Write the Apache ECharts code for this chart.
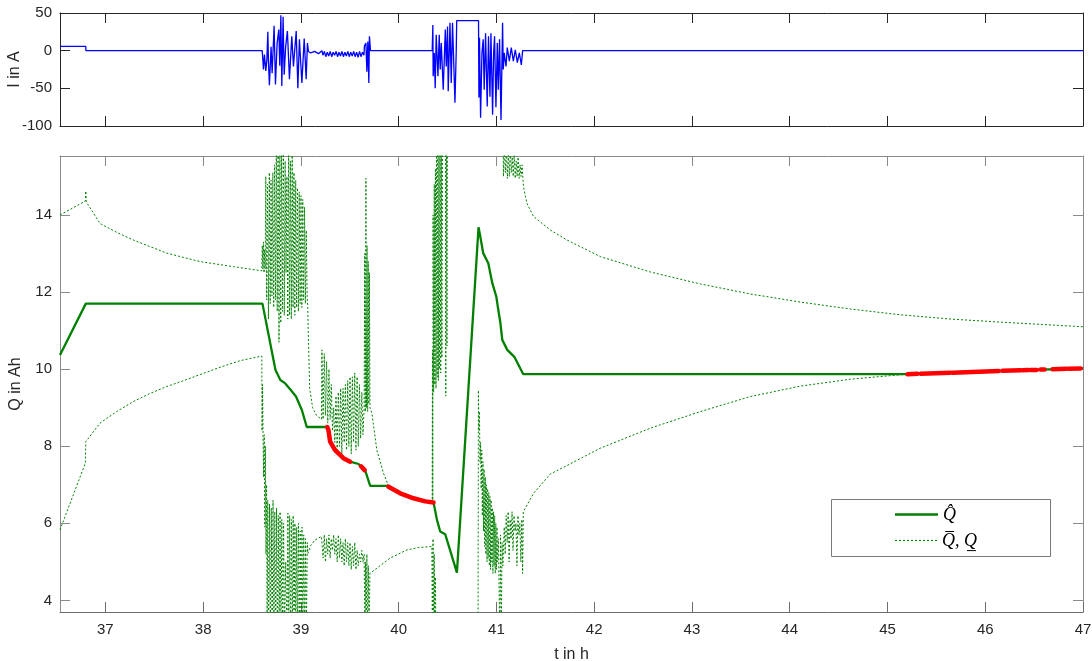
<!DOCTYPE html>
<html>
<head>
<meta charset="utf-8">
<title>I und Q</title>
<script src="https://cdn.jsdelivr.net/npm/echarts@6.0.0/dist/echarts.min.js"></script>
<style>
  html, body { margin: 0; padding: 0; background: #fff; }
  #chart { width: 1092px; height: 661px; }
</style>
</head>
<body>
<div id="chart"></div>
<script>
  // Achsen
  var tMin = 36.536, tMax = 47
  var tTicks = [37, 38, 39, 40, 41, 42, 43, 44, 45, 46, 47]
  var iTicks = [-100, -50, 0, 50]
  var qTicks = [4, 6, 8, 10, 12, 14]

  // Strom I in A, [t, I]
  var currentPts = [
    [36.536,5.7],[36.800,5.7],[36.801,0],[38.604,0],
    [38.611,-12],[38.617,-25],[38.627,-5],[38.641,-27],[38.652,-12],[38.662,25],[38.668,-14],[38.678,-46],
    [38.695,5],[38.706,-30],[38.726,33],[38.740,-45],[38.757,10],[38.774,28],[38.784,-20],[38.795,47],
    [38.805,-47],[38.818,45],[38.829,-32],[38.844,5],[38.862,26],[38.883,-38],[38.907,19],[38.924,-21],
    [38.952,26],[38.969,-50],[38.985,15],[39.010,-43],[39.034,16],[39.054,-38],[39.067,10],[39.077,-1],
    [39.100,-3],[39.140,-1],[39.180,-4],[39.215,0],
    [39.225,-6],[39.240,-1],[39.255,-8],[39.270,-2],[39.285,-7],[39.300,-1],[39.315,-8],[39.330,-2],
    [39.345,-6],[39.360,-1],[39.375,-8],[39.390,-2],[39.405,-7],[39.420,-1],[39.435,-8],[39.450,-2],
    [39.465,-7],[39.480,-1],[39.495,-8],[39.510,-2],[39.525,-7],[39.540,-1],[39.555,-8],[39.570,-2],
    [39.585,-9],[39.600,-1],[39.615,-8],[39.630,-2],[39.645,-6],
    [39.650,6],[39.665,10],[39.675,-28],[39.685,12],[39.695,-43],[39.701,19],[39.712,0],[40.343,0],
    [40.350,34],[40.353,-34],[40.364,-3],[40.374,-50],[40.384,21],[40.402,-34],[40.415,21],[40.425,-25],
    [40.436,10],[40.456,-52],[40.477,28],[40.487,-21],[40.500,32],[40.507,-54],[40.525,37],[40.538,-43],
    [40.551,37],[40.576,-69],[40.589,0],[40.594,40],[40.817,40],
    [40.821,-62],[40.827,17],[40.838,-89],[40.852,-3],[40.865,15],[40.875,-52],[40.889,23],[40.906,-74],
    [40.919,19],[40.934,-61],[40.944,23],[40.961,-85],[40.971,-5],[40.981,19],[40.995,-75],[41.009,10],
    [41.019,-52],[41.032,15],[41.047,-92],[41.063,37],[41.070,-25],[41.080,-3],[41.098,-21],[41.111,4],
    [41.132,-14],[41.152,4],[41.173,-14],[41.193,1],[41.214,-16],[41.234,-3],[41.255,-19],[41.268,0],
    [47.000,0]
  ]

  // Schaetzung Q-Dach in Ah
  var qHatPts = [
    [36.536,10.37],[36.800,11.70],[38.607,11.70],[38.720,10.24],[38.740,9.98],[38.790,9.72],[38.840,9.63],
    [38.890,9.48],[38.950,9.29],[39.010,8.94],[39.060,8.50],[39.269,8.50],[39.282,8.42],[39.299,8.12],
    [39.350,7.90],[39.435,7.69],[39.504,7.60],[39.589,7.54],[39.624,7.45],[39.658,7.37],[39.709,6.97],
    [39.896,6.97],[40.016,6.78],[40.152,6.65],[40.272,6.57],[40.357,6.54],[40.392,6.09],[40.425,5.79],
    [40.476,5.72],[40.596,4.72],[40.817,13.68],[40.835,13.44],[40.865,13.01],[40.917,12.75],[40.958,12.23],
    [40.999,11.88],[41.019,11.54],[41.039,11.23],[41.060,10.76],[41.111,10.50],[41.183,10.32],[41.275,9.87],
    [45.205,9.87],[45.645,9.91],[46.137,9.95],[46.566,9.99],[47.000,10.02]
  ]

  // obere Schranke
  var qUpPts = [
    [36.536,14.00],[36.795,14.36],[36.800,14.62],[36.805,14.34],[36.945,13.78],[37.116,13.55],[37.286,13.35],
    [37.628,13.01],[37.969,12.79],[38.310,12.66],[38.600,12.55],
    [38.605,13.2],[38.611,12.6],[38.617,13.3],[38.623,12.5],[38.629,13.1],[38.635,12.6],[38.641,15.0],
    [38.650,11.8],[38.659,14.8],[38.668,11.3],[38.677,15.1],[38.686,11.7],[38.695,14.9],[38.704,11.9],
    [38.713,15.1],[38.722,11.6],[38.731,15.3],[38.740,11.8],[38.749,16.0],[38.758,11.5],[38.767,16.0],
    [38.776,10.7],[38.785,16.0],[38.794,11.2],[38.803,16.0],[38.812,11.5],[38.821,16.0],[38.830,11.4],
    [38.839,15.4],[38.848,12.5],[38.857,15.0],[38.866,11.3],[38.875,16.0],[38.884,11.4],[38.893,15.4],
    [38.902,11.3],[38.911,15.6],[38.920,11.6],[38.929,15.1],[38.938,11.4],[38.947,14.9],[38.956,11.6],
    [38.965,14.7],[38.974,11.5],[38.983,14.6],[38.992,11.7],[39.001,14.5],[39.010,11.6],[39.019,14.4],
    [39.028,11.8],[39.037,14.2],[39.046,11.7],[39.055,13.6],[39.064,11.9],
    [39.070,11.6],[39.076,10.9],[39.090,9.5],[39.120,9.0],[39.160,8.8],[39.210,8.7],
    [39.215,10.5],[39.227,8.7],[39.239,10.4],[39.251,8.8],[39.263,10.2],[39.275,8.6],[39.287,10.0],
    [39.299,8.7],[39.311,9.6],[39.323,8.4],[39.335,9.0],[39.347,8.1],[39.359,9.3],[39.371,7.9],
    [39.383,9.4],[39.395,8.0],[39.407,9.5],[39.419,7.8],[39.431,9.5],[39.443,8.1],[39.455,9.6],
    [39.467,7.9],[39.479,9.7],[39.491,8.0],[39.503,9.8],[39.515,7.8],[39.527,9.8],[39.539,8.1],
    [39.551,9.9],[39.563,7.9],[39.575,9.8],[39.587,8.0],[39.599,9.6],[39.611,8.2],[39.623,9.4],
    [39.635,8.3],[39.647,9.0],
    [39.653,13.0],[39.659,8.9],[39.665,14.95],[39.671,9.0],[39.677,13.2],[39.683,8.9],[39.689,12.8],
    [39.695,9.1],[39.701,12.5],[39.707,9.0],
    [39.726,8.86],[39.777,7.90],[39.845,7.30],[39.896,6.97],[40.016,6.78],[40.152,6.65],[40.272,6.57],
    [40.343,6.54],
    [40.346,10.5],[40.349,6.5],[40.352,14.0],[40.358,9.4],[40.364,14.8],[40.370,9.6],[40.376,15.2],
    [40.382,9.5],[40.388,15.7],[40.394,9.8],[40.400,16.2],[40.406,9.7],[40.412,16.2],[40.418,10.0],
    [40.424,16.2],[40.430,9.9],[40.436,16.2],[40.442,10.3],[40.450,17.0],[40.478,17.0],[40.482,9.3],
    [40.488,17.0],[40.494,10.6],[40.500,17.0],[41.065,17.0],
    [41.072,15.0],[41.082,15.8],[41.092,15.1],[41.102,15.7],[41.112,14.95],[41.122,15.6],[41.132,15.0],
    [41.142,15.7],[41.152,15.1],[41.162,15.5],[41.172,15.0],[41.182,15.6],[41.192,14.95],[41.202,15.4],
    [41.212,15.0],[41.222,15.5],[41.232,14.95],[41.242,15.3],[41.252,15.0],[41.262,15.3],
    [41.277,14.73],[41.312,14.30],[41.380,13.96],[41.551,13.61],[41.722,13.35],[42.063,12.92],
    [42.575,12.52],[43.087,12.21],[43.598,11.95],[44.110,11.74],[44.622,11.56],[45.134,11.41],
    [45.645,11.30],[46.157,11.22],[47.000,11.10]
  ]

  // untere Schranke
  var qLowPts = [
    [36.536,5.83],[36.795,7.56],[36.800,8.12],[36.945,8.60],[37.116,8.90],[37.286,9.16],[37.457,9.37],
    [37.628,9.55],[37.798,9.70],[37.969,9.86],[38.174,10.05],[38.378,10.22],[38.600,10.34],
    [38.603,8.4],[38.608,9.6],[38.613,8.2],[38.619,7.2],[38.625,8.3],[38.631,5.9],[38.637,8.0],
    [38.643,5.2],[38.649,7.0],[38.655,3.0],[38.661,6.6],[38.670,3.0],[38.679,6.5],[38.688,3.0],
    [38.697,6.4],[38.706,3.0],[38.715,6.6],[38.724,3.0],[38.733,6.3],[38.742,3.0],[38.751,6.4],
    [38.760,3.0],[38.769,6.2],[38.778,3.0],[38.787,6.3],[38.796,3.0],[38.805,6.1],[38.814,3.0],
    [38.823,6.0],[38.832,3.2],[38.845,5.0],[38.858,3.0],[38.867,6.26],[38.876,3.0],[38.885,6.2],
    [38.894,3.0],[38.903,6.1],[38.912,3.0],[38.921,6.2],[38.930,3.0],[38.939,6.0],[38.948,3.0],
    [38.957,5.9],[38.966,3.0],[38.975,6.0],[38.984,3.0],[38.993,5.8],[39.002,3.0],[39.011,5.9],
    [39.020,3.0],[39.029,5.7],[39.038,3.0],[39.047,5.6],[39.056,3.0],[39.065,5.5],[39.072,5.22],
    [39.100,5.42],[39.140,5.56],[39.210,5.66],
    [39.215,5.65],[39.227,5.1],[39.239,5.7],[39.251,5.0],[39.263,5.6],[39.275,5.2],[39.287,5.7],
    [39.299,5.1],[39.311,5.6],[39.323,5.3],[39.335,5.7],[39.347,5.2],[39.359,5.6],[39.371,5.0],
    [39.383,5.7],[39.395,5.1],[39.407,5.6],[39.419,5.0],[39.431,5.5],[39.443,4.9],[39.455,5.6],
    [39.467,5.0],[39.479,5.5],[39.491,4.9],[39.503,5.5],[39.515,4.8],[39.527,5.4],[39.539,4.9],
    [39.551,5.5],[39.563,4.8],[39.575,5.3],[39.587,4.9],[39.599,5.2],[39.611,5.0],[39.623,5.3],
    [39.635,5.0],[39.647,5.2],
    [39.655,3.0],[39.662,5.0],[39.668,3.0],[39.675,5.2],[39.682,3.0],[39.690,4.9],[39.698,3.2],[39.706,4.7],
    [39.726,4.71],[39.914,5.10],[40.085,5.31],[40.200,5.37],[40.340,5.40],
    [40.345,3.0],[40.352,5.6],[40.358,3.0],[40.364,5.2],[40.370,3.0],[40.376,4.6],[40.382,3.0],[40.812,3.0],
    [40.816,9.45],[40.820,8.4],[40.826,8.9],[40.832,7.6],[40.838,8.1],[40.844,6.9],[40.850,7.9],
    [40.856,6.2],[40.862,7.6],[40.868,5.8],[40.874,7.4],[40.880,5.4],[40.886,7.2],[40.892,5.2],
    [40.898,7.0],[40.904,5.0],[40.910,6.9],[40.916,5.1],[40.922,6.8],[40.928,4.9],[40.934,6.7],
    [40.940,4.8],[40.946,6.6],[40.952,5.0],[40.958,6.4],[40.964,4.7],[40.970,6.3],[40.976,4.9],
    [40.982,6.2],[40.988,4.7],[40.994,6.0],[41.000,4.8],[41.006,5.9],[41.012,5.0],[41.020,5.6],
    [41.035,3.0],[41.042,5.7],[41.050,3.2],[41.058,5.5],[41.066,4.9],[41.080,5.9],[41.090,5.2],
    [41.100,6.2],[41.110,5.5],[41.120,6.3],[41.130,5.0],[41.140,6.1],[41.150,5.6],[41.160,6.3],
    [41.170,5.3],[41.180,6.2],[41.190,5.8],[41.200,6.0],[41.210,4.9],[41.220,6.2],[41.230,5.7],
    [41.240,6.0],[41.250,5.0],[41.260,6.1],[41.268,4.7],[41.275,6.3],
    [41.380,6.78],[41.551,7.28],[41.722,7.50],[42.063,7.95],[42.575,8.47],[43.087,8.90],[43.598,9.29],
    [44.110,9.56],[44.622,9.74],[45.205,9.87],[45.600,9.90],[46.000,9.93],[46.500,9.97],[47.000,10.02]
  ]

  // rot markierte Abschnitte ('-' = Luecke)
  var redPts = [
    [39.269,8.50],[39.282,8.42],[39.299,8.12],[39.350,7.90],[39.435,7.69],[39.504,7.60],[39.55,'-'],
    [39.615,7.48],[39.652,7.38],[39.70,'-'],
    [39.896,6.95],[40.016,6.78],[40.152,6.65],[40.272,6.57],[40.357,6.54],[40.40,'-'],
    [45.205,9.87],[45.307,9.88],[45.32,'-'],[45.338,9.88],[45.645,9.91],[45.655,'-'],[45.666,9.91],
    [46.137,9.95],[46.16,'-'],[46.177,9.96],[46.362,9.97],[46.37,'-'],[46.382,9.97],[46.444,9.98],
    [46.455,'-'],[46.464,9.98],[46.525,9.98],[46.545,'-'],[46.566,9.99],[46.607,9.99],[46.65,'-'],
    [46.689,10.00],[46.832,10.01],[46.84,'-'],[46.853,10.01],[46.976,10.02]
  ]

  var green = '#008000'
  var txt = '#262626'
  var font = 'Liberation Sans, Arial, sans-serif'

  function xAx(grid, pos, color, labels) {
    return {
      type: 'value', gridIndex: grid, position: pos, min: tMin, max: tMax,
      axisLine: { show: true, onZero: false, lineStyle: { color: color, width: 1 } },
      axisTick: { show: true, inside: true, length: 10, customValues: tTicks, lineStyle: { color: color } },
      axisLabel: { show: labels, customValues: tTicks, color: txt, fontSize: 15, fontFamily: font, margin: 10 },
      splitLine: { show: false }
    }
  }
  function yAx(grid, pos, color, min, max, ticks, labels) {
    return {
      type: 'value', gridIndex: grid, position: pos, min: min, max: max,
      axisLine: { show: true, onZero: false, lineStyle: { color: color, width: 1 } },
      axisTick: { show: true, inside: true, length: 10, customValues: ticks, lineStyle: { color: color } },
      axisLabel: { show: labels, customValues: ticks, color: txt, fontSize: 15, fontFamily: font, margin: 8 },
      splitLine: { show: false }
    }
  }

  var xBottom = xAx(1, 'bottom', '#6e6e6e', true)
  xBottom.name = 't in h'
  xBottom.nameLocation = 'middle'
  xBottom.nameGap = 35
  xBottom.nameMoveOverlap = false
  xBottom.nameTextStyle = { color: txt, fontSize: 16, fontFamily: font }

  var yTop = yAx(0, 'left', '#262626', -100, 50, iTicks, true)
  yTop.name = 'I in A'
  yTop.nameLocation = 'middle'
  yTop.nameGap = 37
  yTop.nameMoveOverlap = false
  yTop.nameTextStyle = { color: txt, fontSize: 16, fontFamily: font }

  var yBot = yAx(1, 'left', '#8a8a8a', 3.7, 15.53, qTicks, true)
  yBot.name = 'Q in Ah'
  yBot.nameLocation = 'middle'
  yBot.nameGap = 36
  yBot.nameMoveOverlap = false
  yBot.nameTextStyle = { color: txt, fontSize: 16, fontFamily: font }

  var chart = echarts.init(document.getElementById('chart'), null, { renderer: 'canvas' })
  chart.setOption({
    backgroundColor: '#fff',
    animation: false,
    grid: [
      { left: 60, right: 9, top: 13, height: 113, outerBoundsMode: 'none', containLabel: false },
      { left: 60, right: 9, top: 156, height: 456, outerBoundsMode: 'none', containLabel: false }
    ],
    xAxis: [
      xAx(0, 'bottom', '#262626', false),
      xAx(0, 'top', '#262626', false),
      xBottom,
      xAx(1, 'top', '#8a8a8a', false)
    ],
    yAxis: [
      yTop,
      yAx(0, 'right', '#262626', -100, 50, iTicks, false),
      yBot,
      yAx(1, 'right', '#8a8a8a', 3.7, 15.53, qTicks, false)
    ],
    series: [
      {
        name: 'I', type: 'line', xAxisIndex: 0, yAxisIndex: 0, data: currentPts,
        symbol: 'none', silent: true, lineStyle: { color: '#0000ff', width: 1.3 }
      },
      {
        name: 'Qup', type: 'line', xAxisIndex: 2, yAxisIndex: 2, data: qUpPts,
        symbol: 'none', silent: true, lineStyle: { color: green, width: 1, type: [2, 2] }
      },
      {
        name: 'Qlow', type: 'line', xAxisIndex: 2, yAxisIndex: 2, data: qLowPts,
        symbol: 'none', silent: true, lineStyle: { color: green, width: 1, type: [2, 2] }
      },
      {
        name: 'Qhat', type: 'line', xAxisIndex: 2, yAxisIndex: 2, data: qHatPts,
        symbol: 'none', silent: true, lineStyle: { color: green, width: 2.3 }
      },
      {
        name: 'rot', type: 'line', xAxisIndex: 2, yAxisIndex: 2, data: redPts, connectNulls: false,
        symbol: 'none', silent: true, lineStyle: { color: '#ff0000', width: 4.5, cap: 'round', join: 'round' }
      }
    ],
    // Legende von Hand, wegen Q-Dach / Q-Strich
    graphic: [
      { type: 'rect', z: 100, shape: { x: 831.5, y: 499.5, width: 219, height: 57 },
        style: { fill: '#fff', stroke: '#7a7a7a', lineWidth: 1 } },
      { type: 'line', z: 101, shape: { x1: 895, y1: 514.5, x2: 938, y2: 514.5 },
        style: { stroke: green, lineWidth: 2.3 } },
      { type: 'line', z: 101, shape: { x1: 895, y1: 540.5, x2: 938, y2: 540.5 },
        style: { stroke: green, lineWidth: 1, lineDash: [2, 2] } },
      { type: 'text', z: 101, x: 943, y: 515,
        style: { text: 'Q\u0302', font: 'italic 18px "Liberation Serif", serif', fill: '#000', verticalAlign: 'middle' } },
      { type: 'text', z: 101, x: 942, y: 541,
        style: { text: 'Q\u0305, Q\u0332', font: 'italic 18px "Liberation Serif", serif', fill: '#000', verticalAlign: 'middle' } }
    ]
  })
  window.addEventListener('resize', chart.resize)
</script>
</body>
</html>
